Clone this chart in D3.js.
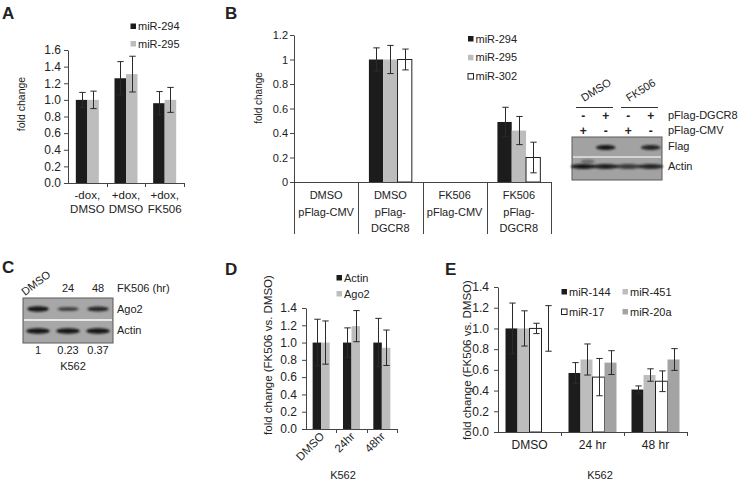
<!DOCTYPE html>
<html><head><meta charset="utf-8">
<script src="https://cdn.jsdelivr.net/npm/d3@7"></script>
<style>
body{margin:0;background:#fff}
svg{display:block}
text{font-family:"Liberation Sans",Arial,sans-serif;fill:#222}
</style>
</head><body>
<svg id="c" width="741" height="482"></svg>
<script>
// ---------- DATA ----------
// Panel A
const aCategories = [["-dox,","DMSO"],["+dox,","DMSO"],["+dox,","FK506"]];
const aSeriesNames = ["miR-294","miR-295"];
const aMiR294 = [1.0, 1.26, 0.96];
const aMiR294Err = [0.09, 0.20, 0.14];
const aMiR295 = [1.0, 1.31, 1.0];
const aMiR295Err = [0.105, 0.215, 0.15];
const aTicks = [0,0.2,0.4,0.6,0.8,1.0,1.2,1.4,1.6];

// Panel B
const bRow1 = ["DMSO","DMSO","FK506","FK506"];
const bRow2 = [["pFlag-CMV"],["pFlag-","DGCR8"],["pFlag-CMV"],["pFlag-","DGCR8"]];
const bSeriesNames = ["miR-294","miR-295","miR-302"];
const bMiR294 = [null, 1.0, null, 0.49];
const bMiR294Err = [0, 0.095, 0, 0.12];
const bMiR295 = [null, 1.0, null, 0.42];
const bMiR295Err = [0, 0.115, 0, 0.115];
const bMiR302 = [null, 1.0, null, 0.20];
const bMiR302Err = [0, 0.085, 0, 0.125];
const bTicks = [0,0.2,0.4,0.6,0.8,1,1.2];
const bTickLabels = ["0","0.2","0.4","0.6","0.8","1","1.2"];

// Blot B
const blotBGroups = ["DMSO","FK506"];
const blotBDGCR8 = ["-","+","-","+"];
const blotBCMV = ["+","-","+","-"];
const blotBFlag = [0, 1, 0, 0.9];
const blotBActin = [1, 0.95, 0.75, 0.9];
const blotBRowLabels = ["pFlag-DGCR8","pFlag-CMV","Flag","Actin"];

// Panel C blot
const blotCLanes = ["DMSO","24","48"];
const blotCAgo2 = [1, 0.55, 0.8];
const blotCActin = [1, 1, 1];
const blotCQuant = ["1","0.23","0.37"];

// Panel D
const dCategories = ["DMSO","24hr","48hr"];
const dSeriesNames = ["Actin","Ago2"];
const dActin = [1.0, 1.0, 1.0];
const dActinErr = [0.27, 0.17, 0.28];
const dAgo2 = [1.0, 1.19, 0.94];
const dAgo2Err = [0.25, 0.18, 0.205];
const dTicks = [0,0.2,0.4,0.6,0.8,1.0,1.2,1.4];

// Panel E
const eCategories = ["DMSO","24 hr","48 hr"];
const eSeriesNames = ["miR-144","miR-451","miR-17","miR-20a"];
const eMiR144 = [1.0, 0.57, 0.41];
const eMiR144Err = [0.245, 0.10, 0.035];
const eMiR451 = [1.0, 0.70, 0.55];
const eMiR451Err = [0.17, 0.15, 0.06];
const eMiR17 = [1.0, 0.53, 0.49];
const eMiR17Err = [0.05, 0.18, 0.10];
const eMiR20a = [1.0, 0.67, 0.70];
const eMiR20aErr = [0.22, 0.115, 0.105];
const eTicks = [0,0.2,0.4,0.6,0.8,1.0,1.2,1.4];

// ---------- STYLE ----------
const BLACK = "#1c1c1c", LGRAY = "#bdbdbd", WHITE = "#ffffff", DGRAY = "#a3a3a3";
const AXIS = "#444";
const svg = d3.select("#c");
const defs = svg.append("defs");
defs.append("filter").attr("id","blur").attr("x","-30%").attr("y","-100%").attr("width","160%").attr("height","300%")
  .append("feGaussianBlur").attr("stdDeviation","1.1 0.9");

function panelLetter(t, x, y){
  svg.append("text").attr("x",x).attr("y",y).attr("font-size",17).attr("font-weight","bold").attr("fill","#111").text(t);
}

function yAxis(g, y, ticks, fmt, size, pad, fs){
  const ax = d3.axisLeft(y).tickValues(ticks).tickFormat(fmt).tickSize(size).tickPadding(pad).tickSizeOuter(0);
  const a = g.append("g").attr("transform",`translate(${y.x0},0)`).call(ax);
  a.selectAll("path,line").attr("stroke",AXIS);
  a.selectAll("text").attr("font-size",fs).attr("fill","#222").attr("font-family",'"Liberation Sans",Arial,sans-serif');
  return a;
}

function barGroups(g, x, y, series, pad){
  series.forEach((s,si)=>{
    const inner = d3.scaleBand().domain(series.map((d,i)=>i)).range([0,x.bandwidth()]).paddingInner(0).paddingOuter(pad);
    s.values.forEach((v,ci)=>{
      if(v===null) return;
      const bx = x(ci) + inner(si), bw = inner.bandwidth();
      if(!s.hide || !s.hide[ci]){
        g.append("rect").attr("x",bx).attr("y",y(v)).attr("width",bw).attr("height",y(0)-y(v))
          .attr("fill",s.fill).attr("stroke",s.stroke||"none").attr("stroke-width",s.stroke?1:0);
      }
    });
  });
  series.forEach((s,si)=>{
    const inner = d3.scaleBand().domain(series.map((d,i)=>i)).range([0,x.bandwidth()]).paddingInner(0).paddingOuter(pad);
    s.values.forEach((v,ci)=>{
      if(v===null) return;
      const e = s.errs[ci];
      const cx = Math.round(x(ci) + inner(si) + inner.bandwidth()/2) + 0.5;
      const cw = 3.2;
      const eg = g.append("g").attr("stroke","#2a2a2a").attr("stroke-width",1);
      eg.append("line").attr("x1",cx).attr("x2",cx).attr("y1",y(v-e)).attr("y2",y(v+e));
      eg.append("line").attr("x1",cx-cw).attr("x2",cx+cw).attr("y1",y(v+e)).attr("y2",y(v+e));
      eg.append("line").attr("x1",cx-cw).attr("x2",cx+cw).attr("y1",y(v-e)).attr("y2",y(v-e));
    });
  });
}

function xBaseline(g, x, y0, boundaryTicks, tickLen){
  const r = x.range();
  g.append("line").attr("x1",r[0]).attr("x2",r[1]).attr("y1",y0+0.5).attr("y2",y0+0.5).attr("stroke",AXIS);
  if(boundaryTicks){
    x.domain().forEach(c=>{
      const bx = Math.round(x(c)+x.bandwidth())+0.5;
      g.append("line").attr("x1",bx).attr("x2",bx).attr("y1",y0).attr("y2",y0+tickLen).attr("stroke",AXIS);
    });
  }
}

function legend(g, items, x, y0, dy, fs){
  items.forEach((it,i)=>{
    const yy = y0 + i*dy;
    g.append("rect").attr("x",x+0.5).attr("y",yy-2.5).attr("width",5.5).attr("height",5.5)
      .attr("fill",it.fill).attr("stroke",it.stroke||"none");
    g.append("text").attr("x",x+8).attr("y",yy+4).attr("font-size",fs).text(it.name);
  });
}

function yLabel(g, text, cx, cy, fs){
  g.append("text").attr("transform",`translate(${cx},${cy}) rotate(-90)`).attr("text-anchor","middle")
    .attr("dominant-baseline","central").attr("font-size",fs).text(text);
}

// ---------- PANEL A ----------
{
  panelLetter("A", 2, 19);
  const g = svg.append("g");
  const y = d3.scaleLinear().domain([0,1.6]).range([183,50]); y.x0 = 68;
  const x = d3.scaleBand().domain(d3.range(aCategories.length)).range([68,184]).padding(0);
  yAxis(g, y, aTicks, d3.format(".1f"), 4, 3, 12);
  barGroups(g, x, y, [
    {values:aMiR294, errs:aMiR294Err, fill:BLACK},
    {values:aMiR295, errs:aMiR295Err, fill:LGRAY}], 0.68);
  xBaseline(g, x, 183, true, 4);
  aCategories.forEach((c,i)=>{
    const t = g.append("text").attr("text-anchor","middle").attr("font-size",11.5);
    c.forEach((line,li)=> t.append("tspan").attr("x",x(i)+x.bandwidth()/2).attr("y",199+li*13.5).text(line));
  });
  legend(g, [{name:aSeriesNames[0],fill:BLACK},{name:aSeriesNames[1],fill:LGRAY}], 130, 26, 17.5, 11);
  yLabel(g, "fold change", 21, 104, 10.5);
}

// ---------- PANEL B ----------
{
  panelLetter("B", 225, 19);
  const g = svg.append("g");
  const y = d3.scaleLinear().domain([0,1.2]).range([182,35]); y.x0 = 294;
  const x = d3.scaleBand().domain(d3.range(bRow1.length)).range([294,551]).padding(0);
  yAxis(g, y, bTicks, (d,i)=>bTickLabels[i], 4, 2, 11);
  barGroups(g, x, y, [
    {values:bMiR294, errs:bMiR294Err, fill:BLACK},
    {values:bMiR295, errs:bMiR295Err, fill:LGRAY},
    {values:bMiR302, errs:bMiR302Err, fill:WHITE, stroke:"#222"}], 0.745);
  xBaseline(g, x, 182, false, 0);
  const edges = [x.range()[0]].concat(x.domain().map(c=>x(c)+x.bandwidth()));
  edges.forEach(e=>{
    const ex = Math.round(e)+0.5;
    g.append("line").attr("x1",ex).attr("x2",ex).attr("y1",182).attr("y2",234).attr("stroke",AXIS);
  });
  bRow1.forEach((t,i)=>{
    const cx = x(i)+x.bandwidth()/2;
    g.append("text").attr("x",cx).attr("y",199).attr("text-anchor","middle").attr("font-size",11).text(t);
    bRow2[i].forEach((l,li)=> g.append("text").attr("x",cx).attr("y",216+li*15.5).attr("text-anchor","middle").attr("font-size",11).text(l));
  });
  legend(g, [{name:bSeriesNames[0],fill:BLACK},{name:bSeriesNames[1],fill:LGRAY},{name:bSeriesNames[2],fill:WHITE,stroke:"#222"}], 467.5, 38.5, 18.8, 11);
  yLabel(g, "fold change", 258, 98, 10);
}

// ---------- BLOT B ----------
{
  const g = svg.append("g");
  const x = d3.scaleBand().domain(d3.range(blotBDGCR8.length)).range([572,662]).padding(0);
  const top = 137, bot = 180, sep = 157;
  g.append("rect").attr("x",572).attr("y",top).attr("width",90).attr("height",bot-top).attr("fill","#a2a2a2").attr("stroke","#5a5a5a");
  g.append("line").attr("x1",573).attr("x2",661).attr("y1",sep).attr("y2",sep).attr("stroke","#e4e4e4").attr("stroke-width",1.5);
  blotBFlag.forEach((v,i)=>{ if(v>0) g.append("ellipse").attr("cx",x(i)+x.bandwidth()/2).attr("cy",147.5).attr("rx",x.bandwidth()*0.43).attr("ry",2.6)
      .attr("fill","#141414").attr("opacity",v).attr("filter","url(#blur)"); });
  blotBActin.forEach((v,i)=>{ g.append("ellipse").attr("cx",x(i)+x.bandwidth()/2).attr("cy",166.5).attr("rx",x.bandwidth()*0.55).attr("ry",2.4)
      .attr("fill","#141414").attr("opacity",v).attr("filter","url(#blur)"); });
  g.append("ellipse").attr("cx",x(0)+x.bandwidth()*0.7).attr("cy",161.5).attr("rx",7).attr("ry",2).attr("fill","#333").attr("opacity",0.5).attr("filter","url(#blur)");
  blotBDGCR8.forEach((s,i)=> g.append("text").attr("x",x(i)+x.bandwidth()/2).attr("y",120).attr("text-anchor","middle").attr("font-size",12).attr("font-weight","bold").text(s==="-"?"‑":s));
  blotBCMV.forEach((s,i)=> g.append("text").attr("x",x(i)+x.bandwidth()/2).attr("y",135).attr("text-anchor","middle").attr("font-size",12).attr("font-weight","bold").text(s==="-"?"‑":s));
  blotBGroups.forEach((t,gi)=>{
    const x0 = x(gi*2)+4, x1 = x(gi*2+1)+x.bandwidth()-4;
    g.append("line").attr("x1",x0).attr("x2",x1).attr("y1",107.5).attr("y2",107.5).attr("stroke","#333");
    g.append("text").attr("transform",`translate(${x0+8},${102}) rotate(-32)`).attr("font-size",11).text(t);
  });
  const ly = [119,134,150,170];
  blotBRowLabels.forEach((t,i)=> g.append("text").attr("x",668).attr("y",ly[i]).attr("font-size",11).text(t));
}

// ---------- PANEL C ----------
{
  panelLetter("C", 2, 273);
  const g = svg.append("g");
  const x = d3.scaleBand().domain(d3.range(blotCLanes.length)).range([23,113]).padding(0);
  const top = 298, bot = 343, sep = 320;
  g.append("rect").attr("x",23).attr("y",top).attr("width",90).attr("height",bot-top).attr("fill","#a7a7a7").attr("stroke","#5a5a5a");
  g.append("line").attr("x1",24).attr("x2",112).attr("y1",sep).attr("y2",sep).attr("stroke","#e8e8e8").attr("stroke-width",2);
  blotCAgo2.forEach((v,i)=> g.append("ellipse").attr("cx",x(i)+x.bandwidth()/2).attr("cy",309).attr("rx",x.bandwidth()*0.36).attr("ry",1.3+1.4*v)
      .attr("fill","#141414").attr("opacity",0.35+0.65*v).attr("filter","url(#blur)"));
  blotCActin.forEach((v,i)=> g.append("ellipse").attr("cx",x(i)+x.bandwidth()/2).attr("cy",331).attr("rx",x.bandwidth()*0.4).attr("ry",2.8)
      .attr("fill","#141414").attr("opacity",v).attr("filter","url(#blur)"));
  blotCLanes.forEach((t,i)=>{
    if(i===0) g.append("text").attr("transform",`translate(${x(i)+12-10},296) rotate(-37)`).attr("font-size",11).text(t);
    else g.append("text").attr("x",x(i)+x.bandwidth()/2).attr("y",292).attr("text-anchor","middle").attr("font-size",11).text(t);
  });
  g.append("text").attr("x",117).attr("y",292).attr("font-size",11).text("FK506 (hr)");
  g.append("text").attr("x",117).attr("y",313).attr("font-size",11).text("Ago2");
  g.append("text").attr("x",117).attr("y",334).attr("font-size",11).text("Actin");
  blotCQuant.forEach((t,i)=> g.append("text").attr("x",x(i)+x.bandwidth()/2).attr("y",354).attr("text-anchor","middle").attr("font-size",11).text(t));
  g.append("text").attr("x",73).attr("y",370).attr("text-anchor","middle").attr("font-size",11).text("K562");
}

// ---------- PANEL D ----------
{
  panelLetter("D", 225, 275);
  const g = svg.append("g");
  const y = d3.scaleLinear().domain([0,1.4]).range([429,308]); y.x0 = 306;
  const x = d3.scaleBand().domain(d3.range(dCategories.length)).range([306,397]).padding(0);
  yAxis(g, y, dTicks, d3.format(".1f"), 4, 5, 12);
  barGroups(g, x, y, [
    {values:dActin, errs:dActinErr, fill:BLACK},
    {values:dAgo2, errs:dAgo2Err, fill:LGRAY}], 0.78);
  xBaseline(g, x, 429, true, 4);
  dCategories.forEach((c,i)=>{
    g.append("text").attr("transform",`translate(${x(i)+x.bandwidth()/2+4},${437}) rotate(-45)`).attr("text-anchor","end").attr("font-size",11.5).text(c);
  });
  g.append("text").attr("x",343).attr("y",479).attr("text-anchor","middle").attr("font-size",11).text("K562");
  legend(g, [{name:dSeriesNames[0],fill:BLACK},{name:dSeriesNames[1],fill:LGRAY}], 336, 277.5, 16, 11);
  yLabel(g, "fold change (FK506 vs. DMSO)", 268, 355, 11.5);
}

// ---------- PANEL E ----------
{
  panelLetter("E", 445, 275);
  const g = svg.append("g");
  const y = d3.scaleLinear().domain([0,1.4]).range([432,287]); y.x0 = 498;
  const x = d3.scaleBand().domain(d3.range(eCategories.length)).range([498,687]).padding(0);
  yAxis(g, y, eTicks, d3.format(".1f"), 4, 5, 12);
  barGroups(g, x, y, [
    {values:eMiR144, errs:eMiR144Err, fill:BLACK},
    {values:eMiR451, errs:eMiR451Err, fill:LGRAY},
    {values:eMiR17, errs:eMiR17Err, fill:WHITE, stroke:"#222"},
    {values:eMiR20a, errs:eMiR20aErr, fill:DGRAY, hide:[true,false,false]}], 0.625);
  xBaseline(g, x, 432, true, 4);
  eCategories.forEach((c,i)=> g.append("text").attr("x",x(i)+x.bandwidth()/2).attr("y",449).attr("text-anchor","middle").attr("font-size",12).text(c));
  g.append("text").attr("x",600).attr("y",479).attr("text-anchor","middle").attr("font-size",11).text("K562");
  legend(g, [{name:eSeriesNames[0],fill:BLACK},{name:eSeriesNames[2],fill:WHITE,stroke:"#222"}], 561, 291.5, 20, 11);
  legend(g, [{name:eSeriesNames[1],fill:LGRAY},{name:eSeriesNames[3],fill:DGRAY}], 622, 291.5, 20, 11);
  yLabel(g, "fold change (FK506 vs. DMSO)", 467, 360, 11.5);
}
</script>
</body></html>
